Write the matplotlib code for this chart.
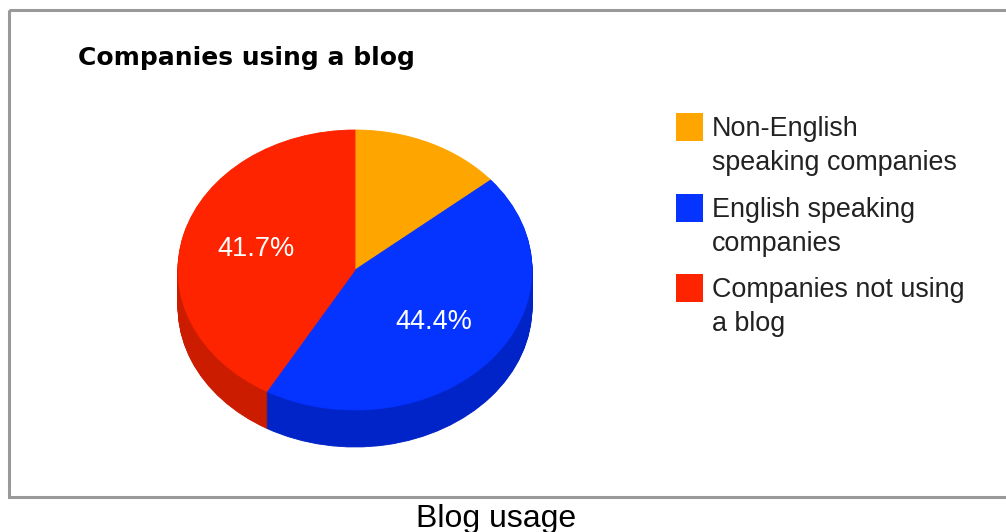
import numpy as np
import matplotlib
matplotlib.use("Agg")
import matplotlib.pyplot as plt
from matplotlib.patches import Rectangle

plt.rcParams['font.family'] = ['Liberation Sans', 'DejaVu Sans']

# blog usage shares (percent)
categories = ["Non-English\nspeaking companies", "English speaking\ncompanies", "Companies not using\na blog"]
shares = [13.9, 44.4, 41.7]
top_colors = ["#FFA500", "#0533FF", "#FF2400"]
side_colors = ["#CC8400", "#0024C8", "#CC1C00"]

W, H = 1006, 532
fig = plt.figure(figsize=(W / 100, H / 100), dpi=100)

# pie placement in pixels (centre, radii, thickness of the rim)
cx, cy = 355, 270
rx, ry = 177, 140
depth = 37

ax = fig.add_axes([(cx - 1.3 * rx) / W, (H - cy - 1.6 * ry) / H, 2.6 * rx / W, 2.9 * ry / H])


def seal_edges(wedges):
    # outline each wedge in its own colour so no seams show between slices
    for w in wedges:
        w.set_edgecolor(w.get_facecolor())
        w.set_linewidth(0.6)


# rim: stack of darker pies shifted downwards
for d in np.linspace(depth / ry, 0, 45, endpoint=False):
    wedges, _ = ax.pie(shares, colors=side_colors, startangle=90, counterclock=False,
                       center=(0, -d))
    seal_edges(wedges)


def pct_label(p):
    return f"{p:.1f}%" if p > 20 else ""


wedges, _, _ = ax.pie(shares, colors=top_colors, startangle=90, counterclock=False,
                      autopct=pct_label, pctdistance=0.58,
                      textprops=dict(color='white', fontsize=19.5))
seal_edges(wedges)
ax.set_aspect('auto')
ax.set_xlim(-1.3, 1.3)
ax.set_ylim(-1.6, 1.3)
ax.axis('off')

# overlay in pixel coordinates for frame, title, legend and caption
ov = fig.add_axes([0, 0, 1, 1], zorder=-1)
ov.set_xlim(0, W)
ov.set_ylim(H, 0)
ov.axis('off')

ov.add_patch(Rectangle((9.5, 9.5), 1010, 487, fill=False, edgecolor='#999999', linewidth=2.2))
ov.text(78, 65, "Companies using a blog", fontsize=18, fontweight='bold', va='baseline',
        family='DejaVu Sans')

legend_tops = [113, 194, 274]
for label, color, top in zip(categories, top_colors, legend_tops):
    ov.add_patch(Rectangle((676, top), 27, 28, facecolor=color, edgecolor='none'))
    for i, line in enumerate(label.split("\n")):
        ov.text(712, top + 23 + i * 34, line, fontsize=19.4, color='#222222', va='baseline')

ov.text(496, 527, "Blog usage", fontsize=23, ha='center', va='baseline', color='black')

fig.savefig('out.png', dpi=100)
